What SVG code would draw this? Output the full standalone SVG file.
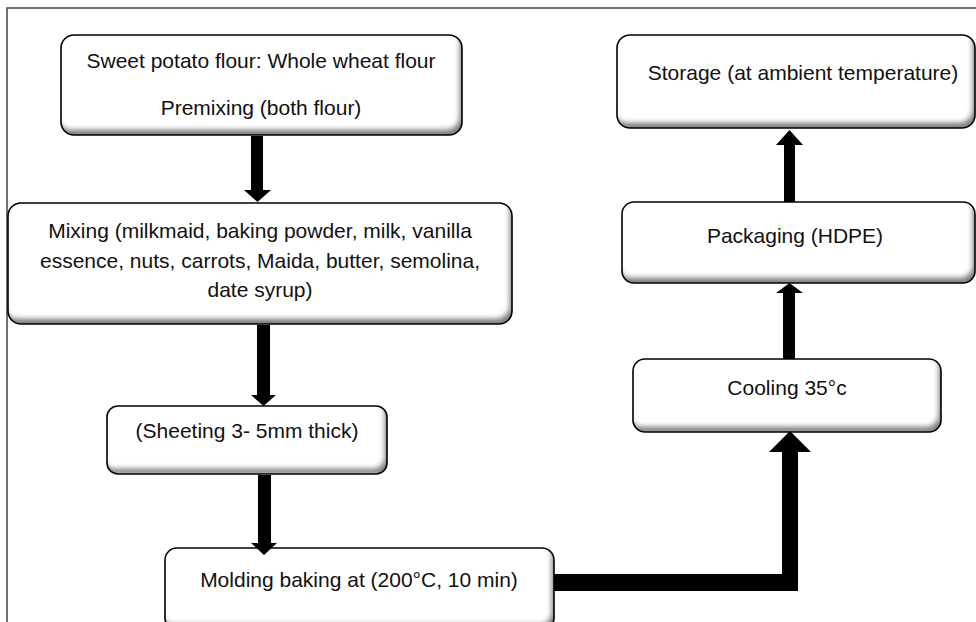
<svg xmlns="http://www.w3.org/2000/svg" width="976" height="622" viewBox="0 0 976 622">
<defs>
<filter id="bevel" x="-5%" y="-10%" width="110%" height="120%">
<feFlood flood-color="#808080" result="f"/>
<feComposite in="f" in2="SourceAlpha" operator="out" result="outside"/>
<feOffset in="outside" dx="-3" dy="-6" result="off"/>
<feGaussianBlur in="off" stdDeviation="2.5" result="blur"/>
<feComposite in="blur" in2="SourceAlpha" operator="in" result="inner"/>
<feMerge><feMergeNode in="SourceGraphic"/><feMergeNode in="inner"/></feMerge>
</filter>
</defs>
<style>
.box{fill:#fff;filter:url(#bevel)}
.edge{fill:none;stroke:#000;stroke-width:1.6}
.t{font-family:"Liberation Sans",Arial,sans-serif;font-size:21px;fill:#111;text-anchor:middle}
.arr{fill:#000}
</style>
<rect x="0" y="0" width="976" height="622" fill="#fff"/>
<rect x="7" y="8" width="990" height="640" fill="none" stroke="#444" stroke-width="1.5"/>

<g id="node-flour">
<rect class="box" x="61" y="35" width="401" height="100" rx="13"/>
<rect class="edge" x="61" y="35" width="401" height="100" rx="13"/>
<text class="t" x="261" y="68">Sweet potato flour: Whole wheat flour</text>
<text class="t" x="261" y="115">Premixing (both flour)</text>
</g>

<g id="node-mixing">
<rect class="box" x="8" y="203" width="504" height="121" rx="13"/>
<rect class="edge" x="8" y="203" width="504" height="121" rx="13"/>
<text class="t" x="260" y="238">Mixing (milkmaid, baking powder, milk, vanilla</text>
<text class="t" x="260" y="268">essence, nuts, carrots, Maida, butter, semolina,</text>
<text class="t" x="260" y="297">date syrup)</text>
</g>

<g id="node-sheeting">
<rect class="box" x="107" y="406" width="280" height="68" rx="11"/>
<rect class="edge" x="107" y="406" width="280" height="68" rx="11"/>
<text class="t" x="247" y="438">(Sheeting 3- 5mm thick)</text>
</g>

<g id="node-molding">
<rect class="box" x="165" y="548" width="389" height="82" rx="12"/>
<rect class="edge" x="165" y="548" width="389" height="82" rx="12"/>
<text class="t" x="359" y="587">Molding baking at (200°C, 10 min)</text>
</g>

<g id="node-cooling">
<rect class="box" x="633" y="359" width="308" height="73" rx="12"/>
<rect class="edge" x="633" y="359" width="308" height="73" rx="12"/>
<text class="t" x="787" y="395">Cooling 35°c</text>
</g>

<g id="node-packaging">
<rect class="box" x="622" y="202" width="353" height="81" rx="12"/>
<rect class="edge" x="622" y="202" width="353" height="81" rx="12"/>
<text class="t" x="795" y="243">Packaging (HDPE)</text>
</g>

<g id="node-storage">
<rect class="box" x="617" y="35" width="358" height="93" rx="13"/>
<rect class="edge" x="617" y="35" width="358" height="93" rx="13"/>
<text class="t" x="803" y="80">Storage (at ambient temperature)</text>
</g>

<g id="connectors">
<polygon class="arr" points="251,136 263,136 263,190 271,190 257.5,202 244,190 251,190"/>
<polygon class="arr" points="257,325 270,325 270,395 276,395 263.5,406 251,395 257,395"/>
<polygon class="arr" points="258,475 271,475 271,543 277,543 264,555 251,543 258,543"/>
<polygon class="arr" points="554,574 782,574 782,452 769,452 790,431 811,452 798,452 798,591 554,591"/>
<polygon class="arr" points="783,359 795,359 795,293 803,293 789.5,283 776,293 783,293"/>
<polygon class="arr" points="784,202 795,202 795,145 803,145 789.5,130 776,145 784,145"/>
</g>
</svg>
